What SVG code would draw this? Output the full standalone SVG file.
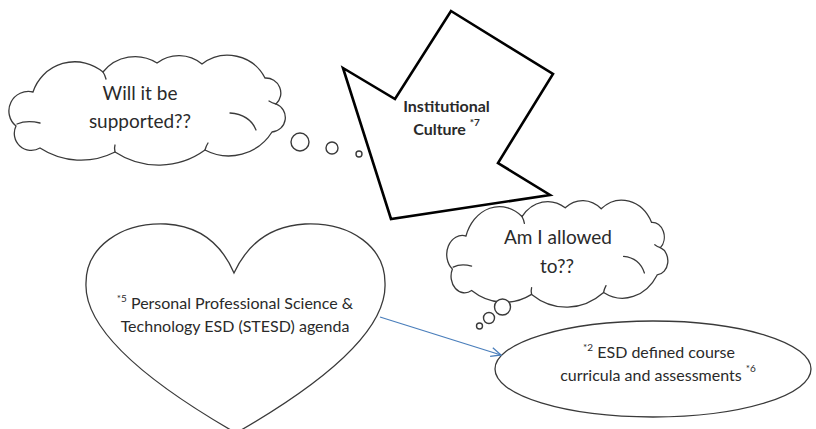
<svg xmlns="http://www.w3.org/2000/svg" xmlns:xlink="http://www.w3.org/1999/xlink" width="816" height="429" viewBox="0 0 816 429">
  <style>
    .outline { fill: #ffffff; stroke: #3a3a3a; stroke-width: 1.3; }
    .deco { fill: none; stroke: #3a3a3a; stroke-width: 1.3; stroke-linecap: round; }
    .bubble { fill: #ffffff; stroke: #3a3a3a; stroke-width: 1.4; }
    .bigarrow { fill: #ffffff; stroke: #000000; stroke-width: 2.6; stroke-linejoin: miter; }
    .txt { font-family: "Lato", "Liberation Sans", sans-serif; fill: #2a2a2a; text-anchor: middle; }
    .cloudtxt { font-size: 19px; }
    .bodytxt { font-size: 16px; }
    .boldtxt { font-size: 16px; font-weight: bold; }
    .sup { font-size: 10px; }
    .conn { fill: none; stroke: #4a7ebb; stroke-width: 1.3; }
  </style>
  <defs>
    <g id="cloudShape">
      <path class="outline" vector-effect="non-scaling-stroke" d="M 33 92 A 44 44 0 0 1 103 72 A 41 41 0 0 1 157 63 A 36 36 0 0 1 202 64 A 42 42 0 0 1 265 78 A 15 15 0 0 1 276 104 A 14.5 14.5 0 0 1 272 132 A 51 51 0 0 1 205 150 A 79 79 0 0 1 115 152 A 75 75 0 0 1 40 148 A 17 17 0 0 1 16 126 A 19.5 19.5 0 0 1 33 92 Z"/>
      <path class="deco" vector-effect="non-scaling-stroke" d="M 17 124 C 24 121 32 121 40 123"/>
      <path class="deco" vector-effect="non-scaling-stroke" d="M 230 113 C 243 114 252 120 256 130"/>
      <path class="deco" vector-effect="non-scaling-stroke" d="M 103 72 Q 105 75 106 79"/>
      <path class="deco" vector-effect="non-scaling-stroke" d="M 276 104 Q 272 103 269 101"/>
      <path class="deco" vector-effect="non-scaling-stroke" d="M 205 150 Q 206 146 208 143"/>
      <path class="deco" vector-effect="non-scaling-stroke" d="M 115 152 Q 114 148 115 145"/>
    </g>
    <marker id="openArrow" markerUnits="userSpaceOnUse" markerWidth="12" markerHeight="12" viewBox="0 0 12 12" refX="11" refY="6" orient="auto">
      <path d="M 1 1.5 L 11 6 L 1 10.5" fill="none" stroke="#4a7ebb" stroke-width="1.3"/>
    </marker>
  </defs>

  <g id="cloud-supported">
    <use xlink:href="#cloudShape" href="#cloudShape"/>
    <circle class="bubble" cx="300" cy="142" r="9"/>
    <circle class="bubble" cx="332" cy="148" r="6"/>
    <circle class="bubble" cx="359" cy="154" r="3"/>
    <text class="txt cloudtxt" x="140" y="100">Will it be</text>
    <text class="txt cloudtxt" x="140" y="128">supported??</text>
  </g>

  <g id="institutional-culture">
    <polygon class="bigarrow" points="451,11 553,74 498,163 550,195 391,219 343,68 395,99"/>
    <text class="txt boldtxt" x="446.5" y="112">Institutional</text>
    <text class="txt boldtxt" x="446.5" y="135">Culture <tspan class="sup" dy="-9">*7</tspan></text>
  </g>

  <g id="cloud-allowed">
    <use xlink:href="#cloudShape" href="#cloudShape" transform="matrix(0.8 0 0 0.973 439.6 146.5)"/>
    <circle class="bubble" cx="502.5" cy="307" r="8"/>
    <circle class="bubble" cx="489" cy="318" r="5.5"/>
    <circle class="bubble" cx="479.5" cy="326" r="3"/>
    <text class="txt cloudtxt" x="558" y="244">Am I allowed</text>
    <text class="txt cloudtxt" x="557" y="273">to??</text>
  </g>

  <g id="heart-agenda">
    <path class="outline" d="M 234 273 C 222 245 200 226 166 224 C 120 222 86 248 86 283 C 84 325 135 375 236 433 C 337 375 387 325 385 283 C 385 248 352 222 305 224 C 270 226 247 245 234 273 Z"/>
    <text class="txt bodytxt" x="235" y="309"><tspan class="sup" dy="-7">*5</tspan><tspan dy="7"> Personal Professional Science &amp;</tspan></text>
    <text class="txt bodytxt" x="235" y="332">Technology ESD (STESD) agenda</text>
  </g>

  <g id="ellipse-curricula">
    <ellipse class="outline" cx="653" cy="369" rx="158" ry="48"/>
    <text class="txt bodytxt" x="659" y="358"><tspan class="sup" dy="-7">*2</tspan><tspan dy="7"> ESD defined course</tspan></text>
    <text class="txt bodytxt" x="658" y="381">curricula and assessments <tspan class="sup" dy="-9">*6</tspan></text>
  </g>

  <g id="connectors">
    <line class="conn" x1="380" y1="317" x2="501" y2="355" marker-end="url(#openArrow)"/>
  </g>
</svg>
